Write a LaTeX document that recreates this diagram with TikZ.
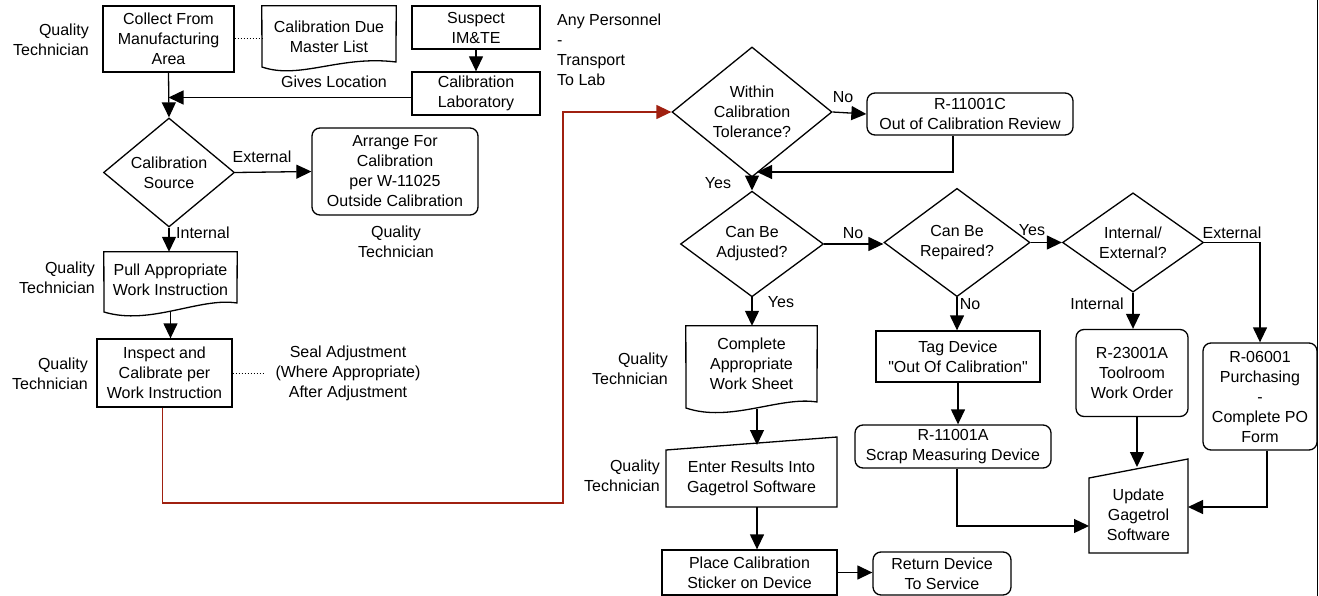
\documentclass[tikz,border=0pt]{standalone}
\usepackage{fontspec}
\setmainfont{Liberation Sans}
% same face without the TeX ligature mapping, for straight double quotes
\newfontfamily\rawsans{Liberation Sans}
\usetikzlibrary{shapes.geometric,arrows.meta}
\definecolor{flowred}{RGB}{160,32,16}
\begin{document}
\begin{tikzpicture}[x=1pt,y=-1pt,
  every node/.style={font=\fontsize{16}{20}\selectfont, align=center, inner sep=0pt},
  outline/.style={draw, line width=1.3pt},
  box/.style={outline, rectangle},
  rbox/.style={outline, rectangle, rounded corners=8pt},
  dec/.style={outline, diamond},
  arr/.style={line width=1.3pt, -{Triangle[length=15pt,width=14pt]}},
  dots/.style={line width=1pt, dotted},
  shapeline/.style={line width=1.3pt, line join=miter},
]
\useasboundingbox (0,0) rectangle (1319,596);

% ---------- left column ----------
\node[box, minimum width=131, minimum height=66] (collect) at (168.5,39) {Collect From\\Manufacturing\\Area};
\node[anchor=east, align=right] (qt1) at (89,40) {Quality\\Technician};

\node[minimum width=134, minimum height=62] (due) at (329,37) {Calibration Due\\Master List};
\draw[shapeline] (due.north west) -- (due.north east) -- (396,62)
  .. controls (340,55) and (300,80) .. (262,67) -- cycle;
\draw[dots] (collect.east) -- (collect.east -| due.west);
\node (gives) at (334,82) {Gives Location};

\node[box, minimum width=128, minimum height=43] (suspect) at (476,27.5) {Suspect\\IM\&TE};
\node[box, minimum width=128, minimum height=43] (callab) at (476,93.5) {Calibration\\Laboratory};
\node[anchor=north west, align=left] (anyp) at (557,14) {Any Personnel\\-\\Transport\\To Lab};
\draw[arr] (suspect) -- (callab);
\draw[arr] ([yshift=-4]callab.west) -- ([yshift=-4]callab.west -| collect.south);

\node[dec, minimum width=131, minimum height=109] (calsrc) at (169,172.5) {Calibration\\Source};
\draw[arr] (collect.south) -- (calsrc.north);

\node[rbox, minimum width=166, minimum height=87] (arrange) at (395,171.5) {Arrange For\\Calibration\\per W-11025\\Outside Calibration};
\draw[arr] (calsrc.east) -- (arrange.west);
\node (ext1) at (262,157) {External};
\node (qt2) at (396,242) {Quality\\Technician};

\node[minimum width=133, minimum height=56] (pull) at (170.5,280) {Pull Appropriate\\Work Instruction};
\draw[shapeline] (pull.north west) -- (pull.north east) -- (237,303)
  .. controls (200,297) and (150,326) .. (104,312) -- cycle;
\node[anchor=east, align=right] (qt3) at (95,278) {Quality\\Technician};
\draw[arr] (calsrc.south) -- (calsrc.south |- pull.north);
\node[anchor=west] (int1) at (176,233) {Internal};

\node[box, minimum width=135, minimum height=68] (inspect) at (164.5,373) {Inspect and\\Calibrate per\\Work Instruction};
\node[anchor=east, align=right] (qt4) at (88,374) {Quality\\Technician};
\coordinate (pullb) at (170.5,311);
\draw[arr] (pullb) -- (pullb |- inspect.north);
\node (seal) at (348,373) {Seal Adjustment\\(Where Appropriate)\\After Adjustment};
\draw[dots] (inspect.east) -- (264,373);

% ---------- right part ----------
\node[dec, minimum width=160, minimum height=112] (within) at (752,112) {Within\\Calibration\\Tolerance?};
\draw[arr, flowred] ([xshift=-2]inspect.south) |- (563,503) |- (within.west);

\node[rbox, minimum width=206, minimum height=42] (r11c) at (970,114) {R-11001C\\Out of Calibration Review};
\draw[arr] (within.east) -- (r11c.west);
\node (no1) at (843,97) {No};
\coordinate (join1) at (757,172);
\draw[arr] ([xshift=-17]r11c.south) |- (join1);

\node[dec, minimum width=143, minimum height=96] (adj) at (752,244) {Can Be\\Adjusted?};
\draw[arr] (within.south) -- (adj.north);
\node (yes1) at (718,183) {Yes};

\node[dec, minimum width=146, minimum height=99] (rep) at (957,242.5) {Can Be\\Repaired?};
\draw[arr] (adj.east) -- (adj.east -| rep.west);
\node (no2) at (853,233) {No};

\node[dec, minimum width=141, minimum height=99] (intx) at (1133,242.5) {Internal/\\External?};
\draw[arr] (rep.east) -- (intx.west);
\node (yes2) at (1032,230) {Yes};

\node[rbox, minimum width=114, minimum height=107] (r06) at (1260,396.5) {R-06001\\Purchasing\\-\\Complete PO\\Form};
\draw[arr] (intx.east) -| (r06.north);
\node (ext2) at (1232,233) {External};

\node[rbox, minimum width=112, minimum height=87] (r23) at (1132,373) {R-23001A\\Toolroom\\Work Order};
\draw[arr] (intx.south) -- (intx.south |- r23.north);
\node (int2) at (1097,304) {Internal};

\node[minimum width=131, minimum height=76] (cws) at (751.5,364) {Complete\\Appropriate\\Work Sheet};
\draw[shapeline] (cws.north west) -- (cws.north east) -- (817,402)
  .. controls (780,396) and (730,423) .. (686,408) -- cycle;
\draw[arr] (adj.south) -- (adj.south |- cws.north);
\node (yes3) at (781,302) {Yes};
\node[anchor=east, align=right] (qt5) at (668,369) {Quality\\Technician};

\node[minimum width=171, minimum height=58] (enter) at (751.5,478) {Enter Results Into\\Gagetrol Software};
\draw[shapeline] (666,450) -- (837,437) -- (837,507) -- (666,507) -- cycle;
\node[anchor=east, align=right] (qt6) at (660,476) {Quality\\Technician};
\coordinate (cwsb) at (757,409);
\draw[arr] (cwsb) -- (757,445);

\node[box, minimum width=175, minimum height=45] (place) at (749.5,572.5) {Place Calibration\\Sticker on Device};
\draw[arr] ([xshift=5.5]enter.south) -- ([xshift=5.5]enter.south |- place.north);

\node[rbox, minimum width=138, minimum height=43] (ret) at (942,573.5) {Return Device\\To Service};
\draw[arr] (place.east) -- (place.east -| ret.west);

\node[box, minimum width=164, minimum height=51] (tag) at (958,356.5) {Tag Device\\{\rawsans"}Out Of Calibration{\rawsans"}};
\draw[arr] (rep.south) -- (rep.south |- tag.north);
\node (no3) at (970,304) {No};

\node[rbox, minimum width=196, minimum height=43] (r11a) at (953,446.5) {R-11001A\\Scrap Measuring Device};
\draw[arr] (tag.south) -- (tag.south |- r11a.north);

\node[minimum width=99, minimum height=76] (upd) at (1138.5,515) {Update\\Gagetrol\\Software};
\draw[shapeline] (1089,478) -- (1188,459) -- (1188,553) -- (1089,553) -- cycle;
\draw[arr] ([xshift=4]r11a.south) |- (1089,526);
\draw[arr] ([xshift=5]r23.south) -- ([xshift=5]r23.south |- 0,467);
\draw[arr] ([xshift=7]r06.south) |- (1188,507);

% page edge
\draw[line width=1pt] (1317,0) -- (1317,596);
\end{tikzpicture}
\end{document}
